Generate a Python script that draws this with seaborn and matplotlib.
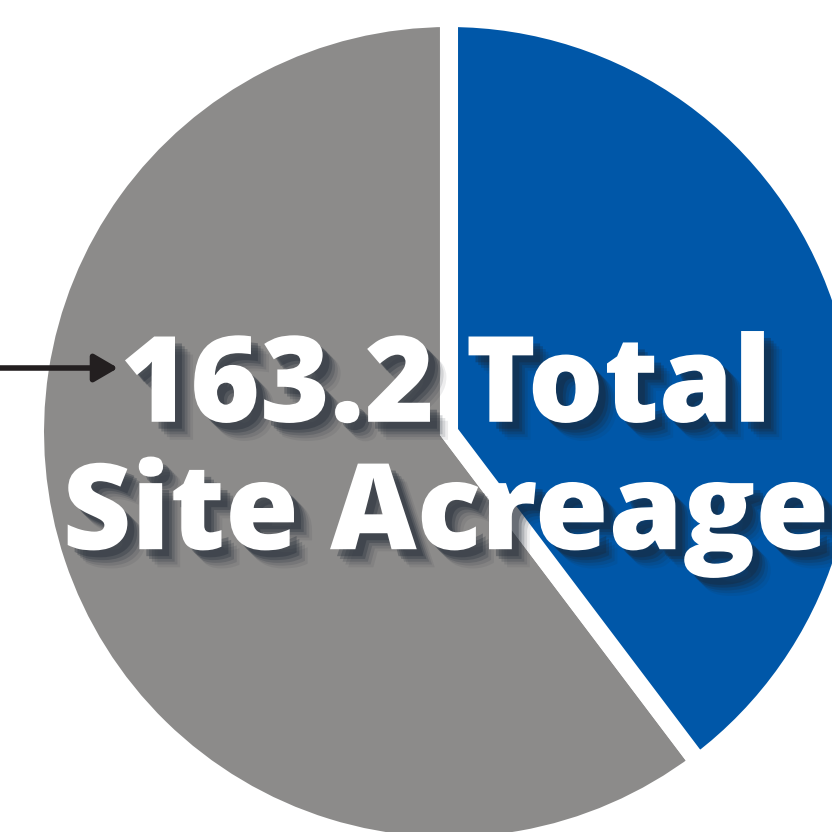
import matplotlib
matplotlib.use("Agg")
from matplotlib import pyplot as plt
import matplotlib.patheffects as pe
import seaborn as sns

# site acreage split
categories = ["Other", "Site"]
acres = [98.4, 64.8]
colors = ["#8c8b8a", "#0057a8"]
total_label = "163.2 Total\nSite Acreage"

sns.set_theme(style="white")
plt.rcParams['font.family'] = ['Open Sans', 'DejaVu Sans']

fig = plt.figure(figsize=(8.32, 8.32), dpi=100)
ax = fig.add_axes([0, 0, 1, 1])

# gray first, counter-clockwise from 12 o'clock so blue ends at the right
ax.pie(acres, colors=sns.color_palette(colors), startangle=90,
       counterclock=True, center=(449, 400), radius=414,
       wedgeprops=dict(edgecolor="white", linewidth=13, joinstyle="miter"),
       frame=True)
ax.set_xlim(0, 832)
ax.set_ylim(0, 832)
ax.set_aspect("equal")
ax.axis("off")

# fake blurred drop shadow
shadow = [pe.SimplePatchShadow(offset=(o, -o), shadow_rgbFace="#1b2430", alpha=a)
          for o, a in [(13, 0.08), (11, 0.12), (9, 0.18), (7, 0.25), (5, 0.3)]]
ax.text(446, 377, total_label, ha="center", va="center", color="white",
        fontsize=86, fontweight=800, linespacing=1.07,
        path_effects=shadow + [pe.Normal()])

# arrow pointing at the label
ax.annotate("", xy=(118, 464), xytext=(0, 464),
            arrowprops=dict(arrowstyle="-|>,head_length=1.2,head_width=0.7",
                            color="#231f20", lw=4, shrinkA=0, shrinkB=0))

fig.savefig("out.png", dpi=100)
